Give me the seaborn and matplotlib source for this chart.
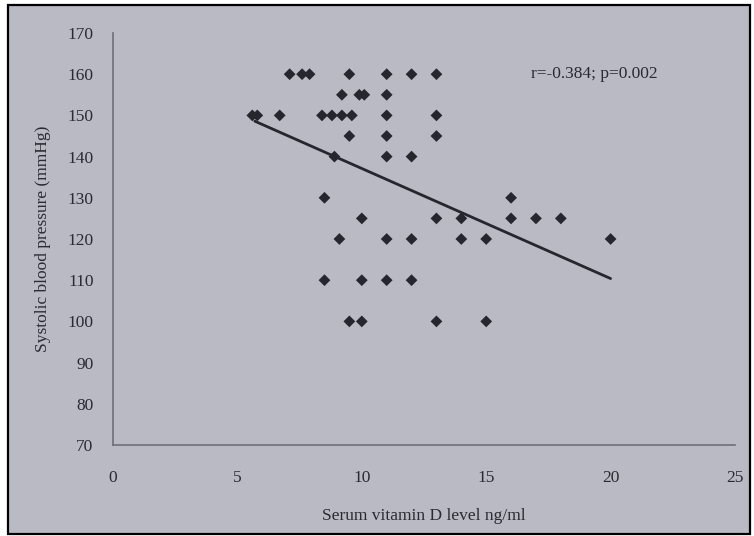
import numpy as np
import pandas as pd
import seaborn as sns
import matplotlib.pyplot as plt
from matplotlib.patches import Rectangle

vitd = [7.1, 7.6, 7.9, 9.5, 11, 12, 13,
        9.2, 9.9, 10.1, 11,
        5.6, 5.8, 6.7, 8.4, 8.8, 9.2, 9.6, 11, 13,
        9.5, 11, 13,
        8.9, 11, 12,
        8.5, 16,
        10, 13, 14, 16, 17, 18,
        9.1, 11, 12, 14, 15, 20,
        8.5, 10, 11, 12,
        9.5, 10, 13, 15]
sbp = [160]*7 + [155]*4 + [150]*9 + [145]*3 + [140]*3 + [130]*2 + [125]*6 + [120]*6 + [110]*4 + [100]*4
fit_x = [5.7, 20.0]
fit_y = [148.6, 110.4]
x_ticks = [0, 5, 10, 15, 20, 25]
y_ticks = [70, 80, 90, 100, 110, 120, 130, 140, 150, 160, 170]
annotation = "r=-0.384; p=0.002"

df = pd.DataFrame({"vitd": vitd, "sbp": sbp})
fit = pd.DataFrame({"x": fit_x, "y": fit_y})

sns.set_style("white")
plt.rcParams['font.family'] = ['Liberation Serif', 'DejaVu Serif']

bg = "#b9bac4"
ink = "#2a2a32"
fig = plt.figure(figsize=(7.54, 5.36), dpi=100, facecolor="white")
fig.patches.append(Rectangle((8/754, 1-534/536), 742/754, 529/536, transform=fig.transFigure,
                             facecolor=bg, edgecolor="black", linewidth=1.6, zorder=-10))
ax = fig.add_axes([113/754, 1-445/536, 622/754, 412/536])
ax.set_facecolor("none")

sns.scatterplot(data=df, x="vitd", y="sbp", ax=ax, marker="D", s=36,
                color="#26262e", edgecolor="none", zorder=3)
sns.lineplot(data=fit, x="x", y="y", ax=ax, color="#26262e", linewidth=2)

ax.set_xlim(0, 25)
ax.set_ylim(70, 170)
ax.set_xticks(x_ticks)
ax.set_yticks(y_ticks)
for s in ["top", "right"]:
    ax.spines[s].set_visible(False)
for s in ["left", "bottom"]:
    ax.spines[s].set_color("#6e6f78")
    ax.spines[s].set_linewidth(1.2)
ax.tick_params(axis="y", direction="out", length=6, color="#6e6f78", labelsize=12.5, labelcolor=ink, pad=8)
ax.tick_params(axis="x", direction="out", length=4, color="#6e6f78", labelsize=12.5, labelcolor=ink, pad=14)
ax.set_xlabel("Serum vitamin D level ng/ml", fontsize=12.5, color=ink, labelpad=16)
ax.set_ylabel("Systolic blood pressure (mmHg)", fontsize=12.5, color=ink, labelpad=12)
ax.text(16.8, 160, annotation, fontsize=12.5, color=ink, va="center", ha="left")

fig.savefig("out.png", dpi=100, facecolor="white")
